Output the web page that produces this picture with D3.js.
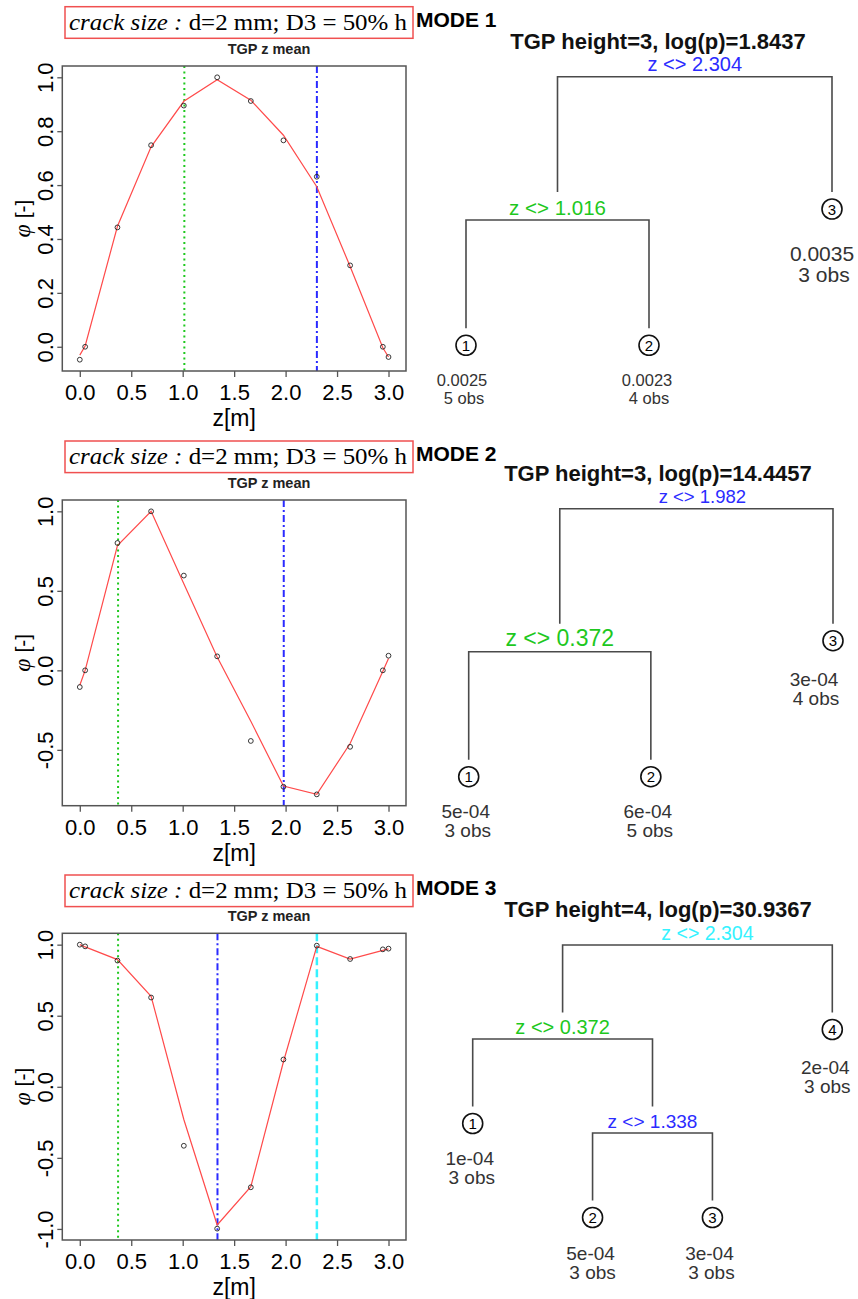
<!DOCTYPE html>
<html>
<head>
<meta charset="utf-8">
<script src="https://cdn.jsdelivr.net/npm/d3@7"></script>
<style>
  body { margin: 0; background: #fff; }
  svg { display: block; font-family: "Liberation Sans", Arial, sans-serif; }
</style>
</head>
<body>
<svg id="fig" width="858" height="1299"></svg>
<script>
const width = 858;
const height = 1299;

/* DATA */

// observation positions z [m]
const zObs = [0, 0.052, 0.366, 0.693, 1.011, 1.335, 1.662, 1.979, 2.303, 2.627, 2.945, 3.0];

const mode1Obs  = [-0.048, 0.0, 0.443, 0.748, 0.895, 1.0, 0.912, 0.766, 0.631, 0.302, 0.0, -0.038];
const mode1Mean = [-0.031, 0.003, 0.447, 0.742, 0.911, 0.991, 0.915, 0.785, 0.594, 0.298, -0.004, -0.038];
const mode2Obs  = [-0.105, 0.0, 0.801, 1.0, 0.596, 0.088, -0.444, -0.732, -0.780, -0.481, 0.0, 0.092];
const mode2Mean = [-0.094, 0.0, 0.785, 1.0, 0.544, 0.084, -0.32, -0.728, -0.78, -0.46, -0.006, 0.075];
const mode3Obs  = [1.0, 0.988, 0.888, 0.628, -0.415, -0.998, -0.707, 0.192, 0.993, 0.899, 0.967, 0.972];
const mode3Mean = [1.0, 0.984, 0.895, 0.637, -0.23, -0.972, -0.703, 0.176, 0.988, 0.899, 0.96, 0.97];

const mode1Splits = [1.016, 2.304];
const mode2Splits = [0.372, 1.982];
const mode3Splits = [0.372, 1.338, 2.304];

// TGP trees (leaf: number, mean: leaf variance, obs: count)
const mode1Tree = { split: 2.304,
  left: { split: 1.016, left: { leaf: 1, mean: 0.0025, obs: 5 }, right: { leaf: 2, mean: 0.0023, obs: 4 } },
  right: { leaf: 3, mean: 0.0035, obs: 3 } };
const mode2Tree = { split: 1.982,
  left: { split: 0.372, left: { leaf: 1, mean: 5e-4, obs: 3 }, right: { leaf: 2, mean: 6e-4, obs: 5 } },
  right: { leaf: 3, mean: 3e-4, obs: 4 } };
const mode3Tree = { split: 2.304,
  left: { split: 0.372, left: { leaf: 1, mean: 1e-4, obs: 3 },
          right: { split: 1.338, left: { leaf: 2, mean: 5e-4, obs: 3 }, right: { leaf: 3, mean: 3e-4, obs: 3 } } },
  right: { leaf: 4, mean: 2e-4, obs: 3 } };

const xTicks = [0, 0.5, 1, 1.5, 2, 2.5, 3];
const mode1YTicks = [0, 0.2, 0.4, 0.6, 0.8, 1.0];
const mode2YTicks = [-0.5, 0, 0.5, 1.0];
const mode3YTicks = [-1, -0.5, 0, 0.5, 1];

const modeNames = ["MODE 1", "MODE 2", "MODE 3"];
const treeTitles = ["TGP height=3, log(p)=1.8437", "TGP height=3, log(p)=14.4457", "TGP height=4, log(p)=30.9367"];
const plotTitle = "TGP z mean";
const crackLabel = ["crack size :", " d=2 mm; D3 = 50% h"];


/* LAYOUT */

const plotLeft = 62.3;
const plotRight = 406;

const layout = [
  { boxY: 6.7, top: 66, bottom: 371, rootY: 76.7, step: 143.3, leafX: [466, 832], rootShift: 0,
    gaps: [0, 28, 35], splitFont: [20, 20.5], leafFont: [0, 21, 16.5], leafDy: [null, [52, 73], [41, 59]],
    leafShift: [-4, -2, -10] },
  { boxY: 441, top: 500, bottom: 805.7, rootY: 508.7, step: 143, leafX: [468.7, 833], rootShift: 6,
    gaps: [0, 28, 35], splitFont: [18.5, 23], leafFont: [0, 19, 19], leafDy: [null, [45, 64], [41, 60]],
    leafShift: [-3, -3, -19] },
  { boxY: 875, top: 933.3, bottom: 1240, rootY: 945, step: 94, leafX: [472.7, 832.3], rootShift: 10,
    gaps: [0, 26.5, 26.5, 26.5], splitFont: [19.5, 20, 19], leafFont: [0, 19, 19, 19], leafDy: [null, [44, 63], [41, 60], [42.5, 61.5]],
    leafShift: [-3, -2, -3, -7] }
];

const panels = [
  { obs: mode1Obs, mean: mode1Mean, splits: mode1Splits, tree: mode1Tree, yTicks: mode1YTicks },
  { obs: mode2Obs, mean: mode2Mean, splits: mode2Splits, tree: mode2Tree, yTicks: mode2YTicks },
  { obs: mode3Obs, mean: mode3Mean, splits: mode3Splits, tree: mode3Tree, yTicks: mode3YTicks }
];

const splitColors = ["#1ec81e", "#2b2bff", "#35f2ff"];
const splitDashes = ["2,3.5", "7,3,2,3", "8,4"];
const splitWidths = [2, 2, 2.5];

const svg = d3.select("svg#fig");

panels.forEach((p, i) => drawPanel(p, layout[i], i));


/* ONE ROW: profile plot + tree */
function drawPanel(p, L, i) {

  const g = svg.append("g").attr("class", "panel");

  // crack size box
  g.append("rect")
    .attr("x", 65).attr("y", L.boxY)
    .attr("width", 348).attr("height", 31.6)
    .attr("fill", "none").attr("stroke", "#f05050").attr("stroke-width", 1.5);

  const crack = g.append("text")
    .attr("x", 69).attr("y", L.boxY + 23)
    .attr("textLength", 338)
    .attr("lengthAdjust", "spacingAndGlyphs")
    .style("font-family", "'Liberation Serif', 'Times New Roman', serif")
    .style("font-size", "23px");
  crack.append("tspan").style("font-style", "italic").text(crackLabel[0]);
  crack.append("tspan").text(crackLabel[1]);

  g.append("text")
    .attr("x", 416).attr("y", L.boxY + 20)
    .style("font-weight", "bold").style("font-size", "21px")
    .text(modeNames[i]);

  g.append("text")
    .attr("x", 269).attr("y", L.top - 12)
    .attr("text-anchor", "middle")
    .style("font-weight", "bold").style("font-size", "14.5px")
    .attr("fill", "#222")
    .text(plotTitle);

  // scales
  const yMin = d3.min(p.obs), yMax = d3.max(p.obs);
  const pad = (yMax - yMin) * 0.04;

  const x = d3.scaleLinear().domain([-0.17, 3.17]).range([plotLeft, plotRight]);
  const y = d3.scaleLinear().domain([yMin - pad, yMax + pad]).range([L.bottom, L.top]);

  // split lines
  const sorted = p.splits.slice().sort(d3.ascending);
  const colorOf = d3.scaleOrdinal().domain(sorted).range(splitColors);
  const dashOf = d3.scaleOrdinal().domain(sorted).range(splitDashes);
  const widthOf = d3.scaleOrdinal().domain(sorted).range(splitWidths);

  g.selectAll("line.split")
    .data(p.splits)
    .enter()
    .append("line")
    .attr("class", "split")
    .attr("x1", d => x(d)).attr("x2", d => x(d))
    .attr("y1", L.top).attr("y2", L.bottom)
    .attr("stroke", d => colorOf(d))
    .attr("stroke-width", d => widthOf(d))
    .attr("stroke-dasharray", d => dashOf(d));

  // mean line
  const line = d3.line()
    .x((d, k) => x(zObs[k]))
    .y(d => y(d));

  g.append("path")
    .datum(p.mean)
    .attr("d", line)
    .attr("fill", "none")
    .attr("stroke", "#ff4a4a")
    .attr("stroke-width", 1.2);

  // observations
  g.selectAll("circle.obs")
    .data(p.obs)
    .enter()
    .append("circle")
    .attr("class", "obs")
    .attr("cx", (d, k) => x(zObs[k]))
    .attr("cy", d => y(d))
    .attr("r", 2.4)
    .attr("fill", "none")
    .attr("stroke", "#222")
    .attr("stroke-width", 0.9);

  // box
  g.append("rect")
    .attr("x", plotLeft).attr("y", L.top)
    .attr("width", plotRight - plotLeft).attr("height", L.bottom - L.top)
    .attr("fill", "none").attr("stroke", "#555").attr("stroke-width", 1.5);

  // axes
  const xAxis = d3.axisBottom(x).tickValues(xTicks).tickSize(6).tickSizeOuter(0)
    .tickFormat(d => d.toFixed(1));
  const xg = g.append("g")
    .attr("transform", translate(0, L.bottom))
    .call(xAxis);
  xg.select(".domain").remove();
  xg.selectAll(".tick line").attr("stroke", "#555").attr("stroke-width", 1.3);
  xg.selectAll(".tick text")
    .attr("y", 29).attr("dy", 0)
    .attr("fill", "#000")
    .style("font-family", "'Liberation Sans', Arial, sans-serif")
    .style("font-size", "22px");

  const yAxis = d3.axisLeft(y).tickValues(p.yTicks).tickSize(5).tickSizeOuter(0)
    .tickFormat(d => d.toFixed(1));
  const yg = g.append("g")
    .attr("transform", translate(plotLeft, 0))
    .call(yAxis);
  yg.select(".domain").remove();
  yg.selectAll(".tick line").attr("stroke", "#555").attr("stroke-width", 1.3);
  yg.selectAll(".tick text")
    .attr("x", 0).attr("dy", 0)
    .attr("transform", "translate(-9.5,0) rotate(-90)")
    .attr("text-anchor", "middle")
    .attr("fill", "#000")
    .style("font-family", "'Liberation Sans', Arial, sans-serif")
    .style("font-size", "22px");

  // axis titles
  g.append("text")
    .attr("x", midpoint([plotLeft, plotRight])).attr("y", L.bottom + 55)
    .attr("text-anchor", "middle")
    .style("font-size", "23px")
    .text("z[m]");

  const yTitle = g.append("text")
    .attr("transform", translate(30, midpoint([L.top, L.bottom])) + " rotate(-90)")
    .attr("text-anchor", "middle")
    .style("font-size", "21px");
  yTitle.append("tspan")
    .style("font-family", "'Liberation Serif', 'Times New Roman', serif")
    .style("font-style", "italic")
    .style("font-size", "24px")
    .text("\u03c6");
  yTitle.append("tspan").text(" [-]");

  drawTree(g, p.tree, L, colorOf, treeTitles[i]);
}


/* TREE */
function drawTree(g, tree, L, colorOf, title) {

  const root = d3.hierarchy(tree, d => (d.leaf ? null : [d.left, d.right]));
  const leaves = root.leaves();

  const leafX = d3.scaleLinear().domain([0, leaves.length - 1]).range(L.leafX);
  const depthY = d3.scaleLinear().domain([0, 1]).range([L.rootY, L.rootY + L.step]);

  leaves.forEach((d, k) => { d.x = leafX(k); d.index = k; });
  root.eachAfter(d => {
    if (d.children) d.x = (d.children[0].x + d.children[1].x) / 2;
    d.y = depthY(d.depth);
  });

  const endY = c => c.y - L.gaps[c.depth];

  const t = g.append("g").attr("class", "tree");

  t.append("text")
    .attr("x", 658).attr("y", L.rootY - 28)
    .attr("text-anchor", "middle")
    .style("font-weight", "bold").style("font-size", "22px")
    .attr("fill", "#111")
    .text(title);

  const splits = root.descendants().filter(d => d.children);

  t.selectAll("path.branch")
    .data(splits)
    .enter()
    .append("path")
    .attr("class", "branch")
    .attr("d", d => {
      const a = d.children[0], b = d.children[1];
      return "M" + a.x + "," + endY(a) + "V" + d.y + "H" + b.x + "V" + endY(b);
    })
    .attr("fill", "none")
    .attr("stroke", "#4a4a4a")
    .attr("stroke-width", 1.6);

  t.selectAll("text.split")
    .data(splits)
    .enter()
    .append("text")
    .attr("class", "split")
    .attr("x", d => d.x + (d.depth === 0 ? L.rootShift : 0))
    .attr("y", d => d.y - 5.5)
    .attr("text-anchor", "middle")
    .attr("fill", d => colorOf(d.data.split))
    .style("font-size", d => L.splitFont[d.depth] + "px")
    .text(d => "z <> " + d.data.split.toFixed(3));

  const leafG = t.selectAll("g.leaf")
    .data(leaves)
    .enter()
    .append("g")
    .attr("class", "leaf")
    .attr("transform", d => translate(d.x, endY(d) + 17));

  leafG.append("circle")
    .attr("r", 10)
    .attr("fill", "none")
    .attr("stroke", "#111")
    .attr("stroke-width", 1.6);

  leafG.append("text")
    .attr("y", 5.5)
    .attr("text-anchor", "middle")
    .style("font-size", "15px")
    .text(d => d.data.leaf);

  leafG.append("text")
    .attr("x", d => L.leafShift[d.index]).attr("y", d => L.leafDy[d.depth][0])
    .attr("text-anchor", "middle")
    .attr("fill", "#333")
    .style("font-size", d => L.leafFont[d.depth] + "px")
    .text(d => formatR(d.data.mean));

  leafG.append("text")
    .attr("x", d => L.leafShift[d.index] + 2).attr("y", d => L.leafDy[d.depth][1])
    .attr("text-anchor", "middle")
    .attr("fill", "#333")
    .style("font-size", d => L.leafFont[d.depth] + "px")
    .text(d => d.data.obs + " obs");
}


/*
 * R style number print: small values in exponent form
 */
function formatR(v) {
  if (v >= 1e-3) return String(v);
  return v.toExponential(0).replace(/e-(\d)$/, "e-0$1");
}

function midpoint(range) {
  return range[0] + (range[1] - range[0]) / 2.0;
}

function translate(x, y) {
  return "translate(" + String(x) + "," + String(y) + ")";
}
</script>
</body>
</html>
